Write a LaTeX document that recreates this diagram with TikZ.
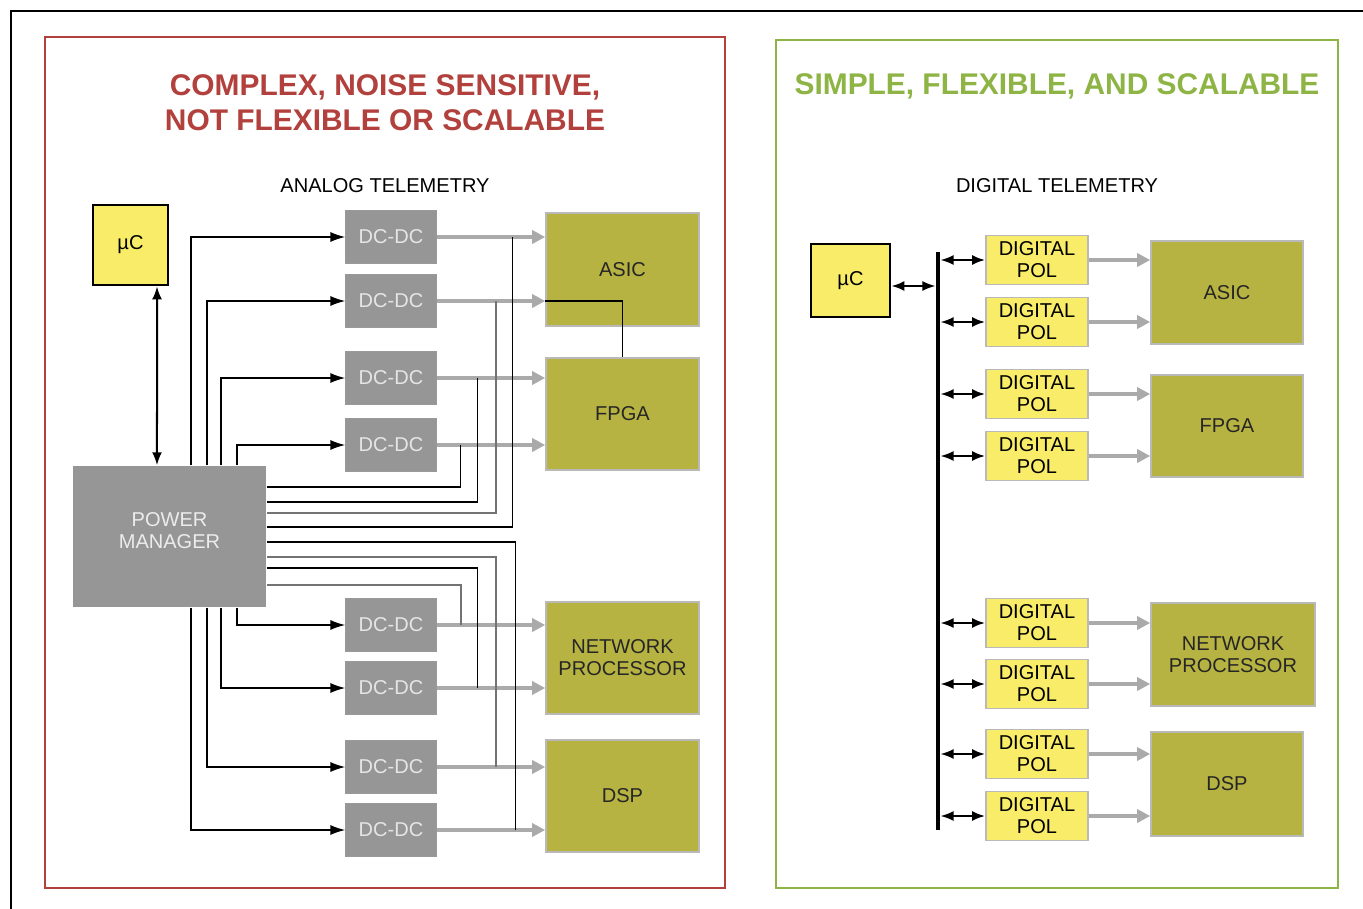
\documentclass[tikz,border=0pt]{standalone}
\usepackage{fontspec}
\setmainfont{Liberation Sans}
\usetikzlibrary{arrows.meta}

\definecolor{framered}{RGB}{178,64,60}
\definecolor{framegreen}{RGB}{141,180,68}
\definecolor{pmgray}{RGB}{150,150,150}
\definecolor{wiregray}{RGB}{170,170,170}
\definecolor{loadolive}{RGB}{183,179,66}
\definecolor{ucyellow}{RGB}{248,236,104}

\begin{document}
\begin{tikzpicture}[x=0.01cm, y=-0.01cm,
    small/.style={font=\fontsize{5.7}{6.3}\selectfont},
    title/.style={font=\fontsize{8.5}{10}\selectfont\bfseries, align=center},
    uc/.style={draw=black, line width=0.028cm, fill=ucyellow, inner sep=0pt, small},
    dcdc/.style={fill=pmgray, draw=gray!80, line width=0.01cm, text=gray!20,
        minimum width=0.9cm, minimum height=0.52cm, inner sep=0pt, small},
    pol/.style={fill=ucyellow, draw=gray!55, line width=0.018cm, align=center,
        minimum width=1.02cm, minimum height=0.49cm, inner sep=0pt, small},
    load/.style={fill=loadolive, draw=gray!55, line width=0.015cm, text=black!85,
        align=center, inner sep=0pt, small},
    ctrl/.style={line width=0.018cm, -{Latex[length=0.15cm,width=0.1cm]}},
    sense/.style={line width=0.02cm, black!55},
    sensedark/.style={line width=0.018cm, black},
    dcout/.style={wiregray, line width=0.04cm, -{Triangle[length=0.13cm,width=0.13cm]}},
    bidir/.style={line width=0.02cm,
        {Latex[length=0.13cm,width=0.1cm]}-{Latex[length=0.13cm,width=0.1cm]}},
    bus/.style={line width=0.045cm}
]
    \useasboundingbox (0,0) rectangle (1363,909);
    \fill[white] (0,0) rectangle (1363,909);
    \draw[line width=0.022cm] (11,909) -- (11,11) -- (1363,11);

    \draw[framered, line width=0.022cm] (45,37) rectangle (725,888);
    \draw[framegreen, line width=0.022cm] (776,40) rectangle (1338,888);

    \node[title, text=framered] (ttl1) at (385,103) {COMPLEX, NOISE SENSITIVE,\\NOT FLEXIBLE OR SCALABLE};
    \node[title, text=framegreen] (ttl2) at (1057,86) {SIMPLE, FLEXIBLE, AND SCALABLE};
    \node[small] (sub1) at (385,186) {ANALOG TELEMETRY};
    \node[small] (sub2) at (1057,186) {DIGITAL TELEMETRY};

    \node[uc, minimum width=0.75cm, minimum height=0.8cm] (uc1) at (130.5,245) {µC};
    \node[fill=pmgray, text=gray!15, small, align=center, inner sep=0pt,
        minimum width=1.93cm, minimum height=1.41cm] (pm) at (169.5,536.5) {POWER\\MANAGER\\[-0.1cm]};

    \node[dcdc] (d1) at (391,237) {DC-DC};
    \node[dcdc] (d2) at (391,301) {DC-DC};
    \node[dcdc] (d3) at (391,378) {DC-DC};
    \node[dcdc] (d4) at (391,445) {DC-DC};
    \node[dcdc] (d5) at (391,625) {DC-DC};
    \node[dcdc] (d6) at (391,688) {DC-DC};
    \node[dcdc] (d7) at (391,767) {DC-DC};
    \node[dcdc] (d8) at (391,830) {DC-DC};

    \node[load, minimum width=1.53cm, minimum height=1.13cm] (asic) at (622.5,269.5) {ASIC};
    \node[load, minimum width=1.53cm, minimum height=1.12cm] (fpga) at (622.5,414) {FPGA};
    \node[load, minimum width=1.53cm, minimum height=1.12cm] (np) at (622.5,658) {NETWORK\\PROCESSOR};
    \node[load, minimum width=1.53cm, minimum height=1.12cm] (dsp) at (622.5,796) {DSP};

    \draw[bidir] ([xshift=0.265cm]uc1.south) -- ([xshift=-0.125cm]pm.north);

    \draw[ctrl] ([xshift=0.215cm]pm.north) |- (d1.west);
    \draw[ctrl] ([xshift=0.375cm]pm.north) |- (d2.west);
    \draw[ctrl] ([xshift=0.515cm]pm.north) |- (d3.west);
    \draw[ctrl] ([xshift=0.675cm]pm.north) |- (d4.west);
    \draw[ctrl] ([xshift=0.675cm]pm.south) |- (d5.west);
    \draw[ctrl] ([xshift=0.515cm]pm.south) |- (d6.west);
    \draw[ctrl] ([xshift=0.375cm]pm.south) |- (d7.west);
    \draw[ctrl] ([xshift=0.215cm]pm.south) |- (d8.west);

    \draw[dcout] (d1.east) -- (d1.east -| asic.west);
    \draw[dcout] (d2.east) -- (d2.east -| asic.west);
    \draw[dcout] (d3.east) -- (d3.east -| fpga.west);
    \draw[dcout] (d4.east) -- (d4.east -| fpga.west);
    \draw[dcout] (d5.east) -- (d5.east -| np.west);
    \draw[dcout] (d6.east) -- (d6.east -| np.west);
    \draw[dcout] (d7.east) -- (d7.east -| dsp.west);
    \draw[dcout] (d8.east) -- (d8.east -| dsp.west);

    \draw[sensedark] ([yshift=0.095cm]pm.east) -| ([xshift=0.76cm]d1.east);
    \draw[sense] ([yshift=0.235cm]pm.east) -| ([xshift=0.59cm]d2.east);
    \draw[sensedark] ([yshift=0.345cm]pm.east) -| ([xshift=0.41cm]d3.east);
    \draw[sensedark] ([yshift=0.495cm]pm.east) -| ([xshift=0.24cm]d4.east);
    \draw[sensedark] ([yshift=-0.055cm]pm.east) -| ([xshift=0.79cm]d8.east);
    \draw[sense] ([yshift=-0.205cm]pm.east) -| ([xshift=0.59cm]d7.east);
    \draw[sensedark] ([yshift=-0.315cm]pm.east) -| ([xshift=0.41cm]d6.east);
    \draw[sense] ([yshift=-0.485cm]pm.east) -| ([xshift=0.24cm]d5.east);
    \draw[sensedark] (d2.east -| asic.west) -| (fpga.north);

    \node[uc, minimum width=0.79cm, minimum height=0.73cm] (uc2) at (850.5,280.5) {µC};
    \coordinate (bt) at (938,252);
    \coordinate (bb) at (938,830);
    \coordinate (ucbus) at ([yshift=-0.055cm]uc2.east);

    \node[pol] (p1) at (1037,260) {DIGITAL\\POL};
    \node[pol] (p2) at (1037,322) {DIGITAL\\POL};
    \node[pol] (p3) at (1037,394) {DIGITAL\\POL};
    \node[pol] (p4) at (1037,456) {DIGITAL\\POL};
    \node[pol] (p5) at (1037,623) {DIGITAL\\POL};
    \node[pol] (p6) at (1037,684) {DIGITAL\\POL};
    \node[pol] (p7) at (1037,754) {DIGITAL\\POL};
    \node[pol] (p8) at (1037,816) {DIGITAL\\POL};

    \node[load, minimum width=1.52cm, minimum height=1.03cm] (asic2) at (1227,292.5) {ASIC};
    \node[load, minimum width=1.52cm, minimum height=1.02cm] (fpga2) at (1227,426) {FPGA};
    \node[load, minimum width=1.64cm, minimum height=1.03cm] (np2) at (1233,654.5) {NETWORK\\PROCESSOR};
    \node[load, minimum width=1.52cm, minimum height=1.04cm] (dsp2) at (1227,784) {DSP};

    \draw[bus] (bt) -- (bb);
    \draw[bidir, shorten >=0.025cm] (ucbus) -- (ucbus -| bt);
    \draw[bidir, shorten <=0.025cm] (bt |- p1.west) -- (p1.west);
    \draw[bidir, shorten <=0.025cm] (bt |- p2.west) -- (p2.west);
    \draw[bidir, shorten <=0.025cm] (bt |- p3.west) -- (p3.west);
    \draw[bidir, shorten <=0.025cm] (bt |- p4.west) -- (p4.west);
    \draw[bidir, shorten <=0.025cm] (bt |- p5.west) -- (p5.west);
    \draw[bidir, shorten <=0.025cm] (bt |- p6.west) -- (p6.west);
    \draw[bidir, shorten <=0.025cm] (bt |- p7.west) -- (p7.west);
    \draw[bidir, shorten <=0.025cm] (bt |- p8.west) -- (p8.west);

    \draw[dcout] (p1.east) -- (p1.east -| asic2.west);
    \draw[dcout] (p2.east) -- (p2.east -| asic2.west);
    \draw[dcout] (p3.east) -- (p3.east -| fpga2.west);
    \draw[dcout] (p4.east) -- (p4.east -| fpga2.west);
    \draw[dcout] (p5.east) -- (p5.east -| np2.west);
    \draw[dcout] (p6.east) -- (p6.east -| np2.west);
    \draw[dcout] (p7.east) -- (p7.east -| dsp2.west);
    \draw[dcout] (p8.east) -- (p8.east -| dsp2.west);
\end{tikzpicture}
\end{document}
